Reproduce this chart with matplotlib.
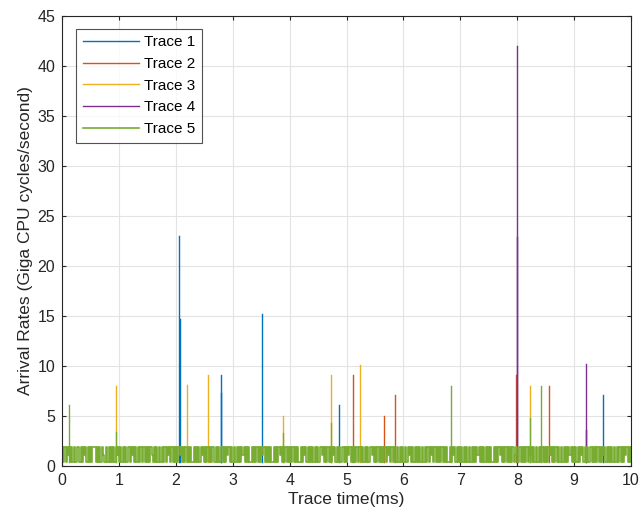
import numpy as np
import matplotlib.pyplot as plt

# spike events per trace: time (ms) and rate (Giga CPU cycles/second)
trace1_t = [2.06, 2.07, 2.79, 2.80, 3.52, 4.86, 9.51]
trace1_v = [23.0, 14.7, 7.3, 9.1, 15.2, 6.1, 7.1]
trace2_t = [5.12, 5.65, 5.86, 7.97, 8.56]
trace2_v = [9.1, 5.0, 7.1, 9.1, 8.0]
trace3_t = [0.94, 2.19, 2.57, 3.88, 4.73, 5.24, 8.23]
trace3_v = [8.0, 8.1, 9.1, 5.0, 9.1, 10.1, 8.0]
trace4_t = [7.99, 8.00, 9.20, 9.21]
trace4_v = [22.9, 42.0, 3.6, 10.2]
trace5_t = [0.12, 0.94, 3.88, 4.73, 6.83, 8.23, 8.42]
trace5_v = [6.1, 3.4, 3.3, 4.3, 8.0, 4.8, 8.0]

# background arrival level of trace 5, one digit per sample: 0 low, 1 mid, 2 high
trace5_levels = (
    "2020212020200220202120202022202020210020202020212"
    "0202020020212020202202020202102020200202021202020"
    "2021202020202002020202120202020220202002020212020"
    "0202020212020200202020202120202020020202120202020"
    "2020202002021202020202020021202020202120202002020"
    "2120202020220202020021202020202020212020200202020"
    "0202120202020202002020212020202020202002021202020"
    "2020200202020212020202020200202021202020202020120"
    "0202020202120202002020202021202020200202020212020"
    "2020212020200202020202021202020202002020202120202"
)
level_values = {"0": 0.35, "1": 1.1, "2": 1.9}
baseline = 0.35

colors = ['#0072BD', '#D95319', '#EDB120', '#7E2F8E', '#77AC30']


def spikes(ts, vs):
    xs, ys = [], []
    for t, v in zip(ts, vs):
        xs += [t, t, np.nan]
        ys += [baseline, v, np.nan]
    return xs, ys


plt.rcParams['font.family'] = ['Liberation Sans', 'DejaVu Sans']
fig = plt.figure(figsize=(6.42, 5.22), dpi=100)
ax = fig.add_axes([0.0966, 0.1073, 0.8864, 0.862])

all_t = [trace1_t, trace2_t, trace3_t, trace4_t]
all_v = [trace1_v, trace2_v, trace3_v, trace4_v]
for i in range(4):
    xs, ys = spikes(all_t[i], all_v[i])
    ax.plot(xs, ys, color=colors[i], linewidth=1.0, label='Trace %d' % (i + 1))

noise_y = [level_values[c] for c in trace5_levels]
noise_x = np.linspace(0, 10, len(noise_y))
ax.plot(noise_x, noise_y, color=colors[4], linewidth=1.2, drawstyle='steps-post',
        label='Trace 5')
xs, ys = spikes(trace5_t, trace5_v)
ax.plot(xs, ys, color=colors[4], linewidth=1.0)

ax.set_xlim(0, 10)
ax.set_ylim(0, 45)
ax.set_xticks(range(0, 11))
ax.set_yticks(range(0, 46, 5))
ax.grid(True, color='#e3e3e3', linewidth=0.8)
ax.set_axisbelow(True)
ax.tick_params(direction='in', top=True, right=True, length=3, labelsize=11.5,
               colors='#262626', pad=5)
for s in ax.spines.values():
    s.set_color('#262626')
    s.set_linewidth(0.8)

ax.set_xlabel('Trace time(ms)', fontsize=12.5, color='#262626', labelpad=3)
ax.set_ylabel('Arrival Rates (Giga CPU cycles/second)', fontsize=12.5,
              color='#262626', labelpad=3)

leg = ax.legend(loc='upper left', bbox_to_anchor=(0.024, 0.972), fontsize=11,
                handlelength=3.7, fancybox=False, edgecolor='#262626',
                borderpad=0.45, labelspacing=0.5, handletextpad=0.3,
                borderaxespad=0)
leg.get_frame().set_linewidth(0.8)

fig.savefig('out.png', dpi=100)
